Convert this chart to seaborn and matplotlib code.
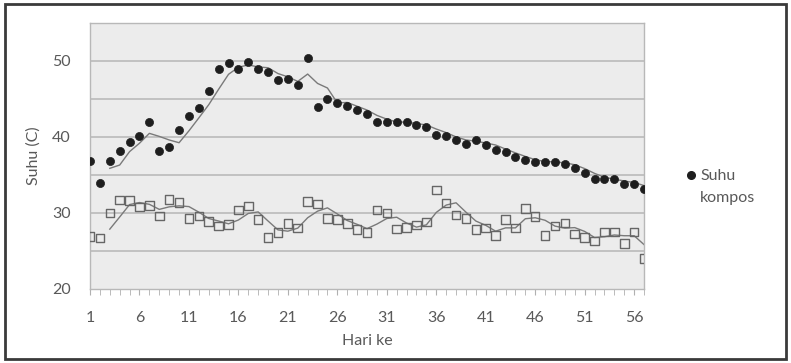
import numpy as np
import pandas as pd
import matplotlib
matplotlib.use("Agg")
import matplotlib.pyplot as plt
import seaborn as sns
from matplotlib.lines import Line2D
from matplotlib.patches import Rectangle

days = list(range(1, 58))

suhu_kompos = [36.8, 34.0, 36.8, 38.1, 39.3, 40.1, 42.0, 38.1, 38.7, 40.9,
               42.8, 43.8, 46.1, 48.9, 49.7, 48.9, 49.8, 48.9, 48.6, 47.5,
               47.6, 46.8, 50.4, 43.9, 45.0, 44.5, 44.1, 43.5, 43.0, 42.0,
               42.0, 41.9, 41.9, 41.5, 41.3, 40.3, 40.1, 39.6, 39.1, 39.6,
               38.9, 38.3, 38.0, 37.4, 36.9, 36.7, 36.7, 36.7, 36.4, 35.9,
               35.2, 34.5, 34.4, 34.4, 33.8, 33.8, 33.2]

suhu_lingkungan = [26.9, 26.7, 30.0, 31.7, 31.6, 30.8, 31.0, 29.6, 31.8, 31.4,
                   29.3, 29.6, 28.9, 28.3, 28.5, 30.4, 30.9, 29.1, 26.8, 27.4,
                   28.6, 28.0, 31.5, 31.2, 29.3, 29.1, 28.6, 27.8, 27.4, 30.4,
                   30.0, 27.9, 28.1, 28.4, 28.8, 33.0, 31.3, 29.7, 29.3, 27.8,
                   28.0, 27.0, 29.1, 28.0, 30.6, 29.5, 27.0, 28.3, 28.7, 27.2,
                   26.8, 26.3, 27.5, 27.5, 26.0, 27.5, 24.0]

xtick_labels = list(range(1, 58, 5))

df = pd.DataFrame({"Hari": days, "Kompos": suhu_kompos, "Lingkungan": suhu_lingkungan})
# Excel-style 3-period moving-average trendline
df["Kompos_ma"] = df["Kompos"].rolling(3).mean()
df["Lingkungan_ma"] = df["Lingkungan"].rolling(3).mean()

plt.rcParams["font.family"] = ["Lato", "DejaVu Sans"]
text_color = "#595959"

fig = plt.figure(figsize=(7.91, 3.63), dpi=100)
ax = fig.add_axes([0.1138, 0.204, 0.7004, 0.733])
ax.set_facecolor("#ececec")

sns.lineplot(data=df, x="Hari", y="Lingkungan_ma", color="#7a7a7a", lw=1.0, ax=ax, zorder=2)
sns.lineplot(data=df, x="Hari", y="Kompos_ma", color="#7a7a7a", lw=1.0, ax=ax, zorder=2)
sns.scatterplot(data=df, x="Hari", y="Lingkungan", marker="s", s=38,
                facecolor="none", edgecolor="#666666", linewidth=1.0, ax=ax, zorder=3)
sns.scatterplot(data=df, x="Hari", y="Kompos", marker="o", s=34,
                color="#1e1e1e", edgecolor="#1e1e1e", linewidth=0.5, ax=ax, zorder=4)

ax.set_xlim(1, 57)
ax.set_ylim(20, 55)
ax.set_yticks([20, 30, 40, 50])
ax.set_xticks(xtick_labels)
ax.set_xticklabels([str(v) for v in xtick_labels])
ax.set_xticks(days, minor=True)

for yv in range(25, 55, 5):
    ax.axhline(yv, color="#bebebe", lw=1.3, zorder=1)

ax.tick_params(axis="y", which="both", length=0, labelsize=11.5, labelcolor=text_color, pad=14)
ax.tick_params(axis="x", which="major", length=4, color="#b0b0b0", labelsize=11.5,
               labelcolor=text_color, pad=12)
ax.tick_params(axis="x", which="minor", length=4, color="#b0b0b0")

for side in ["top", "right", "left", "bottom"]:
    ax.spines[side].set_color("#b8b8b8")
    ax.spines[side].set_linewidth(1.0)

ax.set_xlabel("Hari ke", fontsize=11.5, color=text_color, labelpad=6)
ax.set_ylabel("Suhu (C)", fontsize=11.5, color=text_color, labelpad=8)

# legend: dot sits beside the first line, second line wraps below
legend_elements = [Line2D([0], [0], marker="o", color="none", markerfacecolor="#1e1e1e",
                          markeredgecolor="#1e1e1e", markersize=5.5, label="Suhu")]
leg = fig.legend(handles=legend_elements, loc="center left", bbox_to_anchor=(0.845, 0.515),
                 frameon=False, fontsize=11.5, labelcolor=text_color, handletextpad=0.1,
                 handlelength=1.0)
fig.canvas.draw()
bb = leg.get_texts()[0].get_window_extent().transformed(fig.transFigure.inverted())
fig.text(bb.x0, bb.y0 - 0.022, "kompos", fontsize=11.5, color=text_color, va="top", ha="left")

fig.patches.append(Rectangle((0.006, 0.01), 0.988, 0.98, transform=fig.transFigure,
                             fill=False, edgecolor="#3a3a3a", lw=2.0))

fig.savefig("out.png", dpi=100)
